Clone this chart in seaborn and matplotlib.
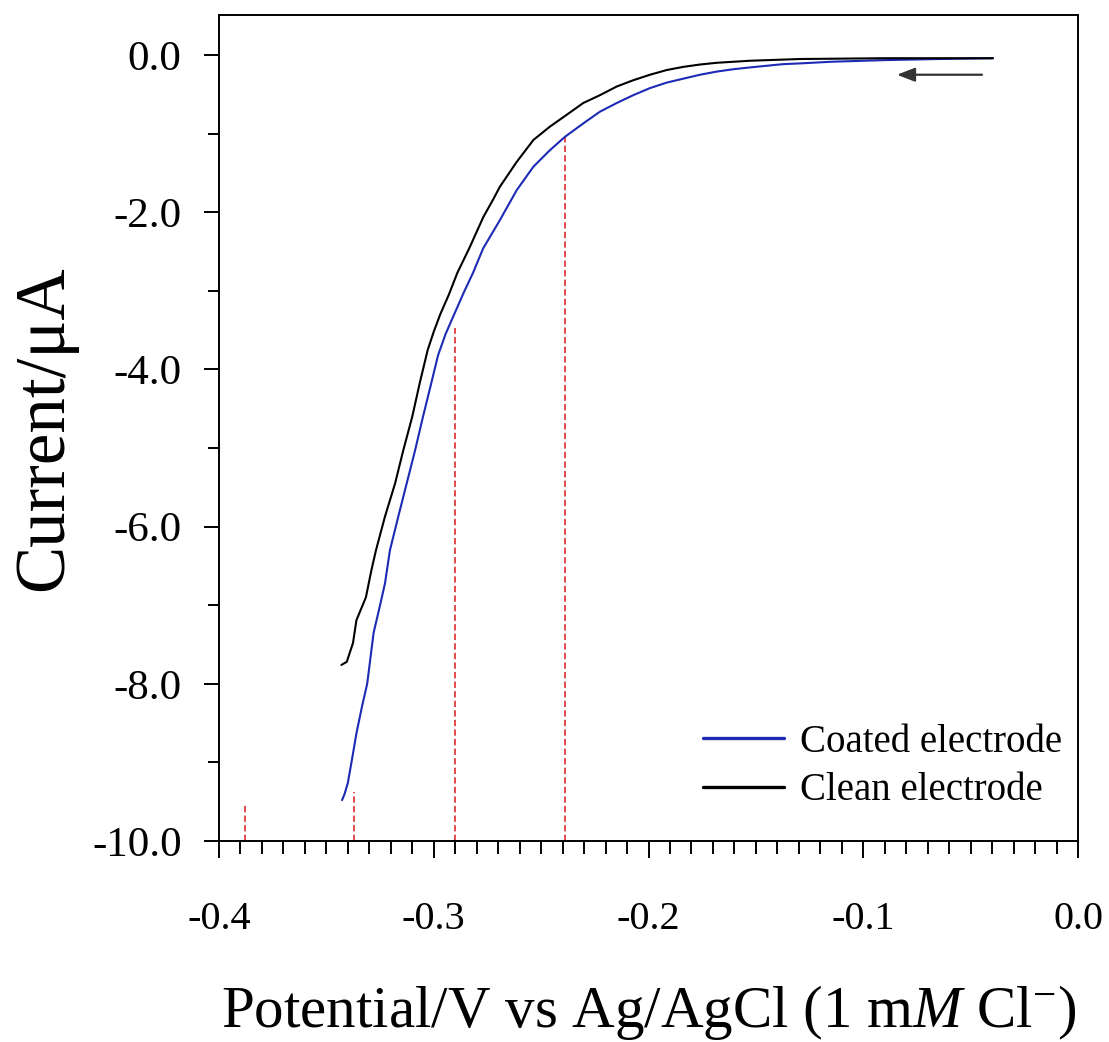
import matplotlib
matplotlib.use("Agg")
import matplotlib.pyplot as plt
import matplotlib.ticker as mticker
import numpy as np
import pandas as pd
import seaborn as sns

# ---- data ----
coated_x = [-0.3427, -0.3415, -0.3400, -0.3380, -0.3360, -0.3335, -0.3310, -0.3280,
            -0.3250, -0.3227, -0.3204, -0.3165, -0.3126, -0.3087, -0.3050, -0.3012,
            -0.2980, -0.2945, -0.2905, -0.2860, -0.2817, -0.2770, -0.2692, -0.2614,
            -0.2536, -0.2459, -0.2389, -0.2304, -0.2226, -0.2148, -0.2071, -0.1993,
            -0.1915, -0.1838, -0.1760, -0.1682, -0.1605, -0.1527, -0.1450, -0.1372,
            -0.1295, -0.1150, -0.0900, -0.0650, -0.0396]
coated_y = [-9.48, -9.40, -9.26, -8.95, -8.63, -8.30, -8.00, -7.35,
            -7.00, -6.72, -6.30, -5.87, -5.45, -5.03, -4.60, -4.18,
            -3.82, -3.55, -3.30, -3.02, -2.77, -2.46, -2.10, -1.72,
            -1.42, -1.21, -1.04, -0.87, -0.72, -0.61, -0.51, -0.42,
            -0.35, -0.30, -0.25, -0.21, -0.18, -0.157, -0.136, -0.115,
            -0.106, -0.085, -0.064, -0.050, -0.040]

clean_x = [-0.3430, -0.3405, -0.3376, -0.3360, -0.3316, -0.3290, -0.3269, -0.3227,
           -0.3180, -0.3142, -0.3100, -0.3065, -0.3028, -0.3000, -0.2970, -0.2930,
           -0.2890, -0.2835, -0.2769, -0.2724, -0.2692, -0.2614, -0.2536, -0.2459,
           -0.2381, -0.2304, -0.2226, -0.2148, -0.2071, -0.1993, -0.1915, -0.1838,
           -0.1760, -0.1682, -0.1527, -0.1295, -0.0900, -0.0396]
clean_y = [-7.76, -7.72, -7.48, -7.19, -6.90, -6.55, -6.30, -5.87,
           -5.45, -5.03, -4.60, -4.17, -3.75, -3.52, -3.30, -3.05,
           -2.77, -2.46, -2.06, -1.84, -1.675, -1.36, -1.08, -0.91,
           -0.76, -0.61, -0.51, -0.40, -0.32, -0.25, -0.19, -0.15,
           -0.12, -0.098, -0.072, -0.050, -0.040, -0.040]

series_names = ["Coated electrode", "Clean electrode"]
series_colors = ["#1c2ab4", "#000000"]

marker_x = [-0.388, -0.337, -0.290, -0.239]
marker_top = [-9.52, -9.38, -3.47, -1.04]

arrow_start = (-0.0447, -0.25)
arrow_end = (-0.0843, -0.25)

x_ticks = [-0.4, -0.3, -0.2, -0.1, 0.0]
y_ticks = [0.0, -2.0, -4.0, -6.0, -8.0, -10.0]

# ---- build table ----
df = pd.concat([
    pd.DataFrame({"Potential": coated_x, "Current": coated_y, "Electrode": series_names[0]}),
    pd.DataFrame({"Potential": clean_x, "Current": clean_y, "Electrode": series_names[1]}),
], ignore_index=True)

sns.set_theme(style="white")
plt.rcParams["font.family"] = ["Liberation Serif", "DejaVu Serif"]
plt.rcParams["mathtext.fontset"] = "custom"
plt.rcParams["mathtext.rm"] = "Liberation Serif"
plt.rcParams["mathtext.it"] = "Liberation Serif:italic"
for key in ["text.color", "axes.labelcolor", "xtick.color", "ytick.color"]:
    plt.rcParams[key] = "black"

fig = plt.figure(figsize=(11.09, 10.42), dpi=100)
ax = fig.add_axes([219 / 1109, 1 - 841 / 1042, (1078 - 219) / 1109, (841 - 15) / 1042])

sns.lineplot(data=df, x="Potential", y="Current", hue="Electrode",
             hue_order=series_names, palette=series_colors, sort=False,
             estimator=None, linewidth=1.5, ax=ax)

ax.vlines(marker_x, ymin=-10.0, ymax=marker_top, colors="#e23a3e",
          linestyles=(0, (3.5, 1.8)), linewidth=1.3, zorder=1)

ax.annotate("", xy=arrow_end, xytext=arrow_start,
            arrowprops=dict(arrowstyle="-|>,head_length=0.9,head_width=0.35",
                            color="#333333", lw=1.6, shrinkA=0, shrinkB=0))

ax.set_xlim(-0.4, 0.0)
ax.set_ylim(-10.0, 0.51)

ax.xaxis.set_major_locator(mticker.FixedLocator(x_ticks))
ax.xaxis.set_minor_locator(mticker.MultipleLocator(0.01))
ax.yaxis.set_major_locator(mticker.FixedLocator(y_ticks))
ax.yaxis.set_minor_locator(mticker.MultipleLocator(1.0))
ax.xaxis.set_major_formatter(mticker.FormatStrFormatter("%.1f"))
ax.yaxis.set_major_formatter(mticker.FormatStrFormatter("%.1f"))

ax.tick_params(axis="x", which="major", direction="out", length=12, width=1.4,
               labelsize=29, pad=31, bottom=True, top=False, colors="black")
ax.tick_params(axis="x", which="minor", direction="out", length=9.5, width=1.4,
               bottom=True, top=False, colors="black")
ax.tick_params(axis="y", which="major", direction="out", length=11, width=1.4,
               labelsize=31, pad=16, left=True, right=False, colors="black")
ax.tick_params(axis="y", which="minor", direction="out", length=8, width=1.4,
               left=True, right=False, colors="black")

for sp in ax.spines.values():
    sp.set_visible(True)
    sp.set_color("black")
    sp.set_linewidth(1.4)

ax.set_xlabel(r"Potential/V vs Ag/AgCl (1 m$\it{M}$ Cl$^{-}$)", fontsize=42.5)
ax.xaxis.set_label_coords(0.5, -0.172)
ax.set_ylabel("Current/μA", fontsize=51)
ax.yaxis.set_label_coords(-0.165, 0.5)

leg = ax.legend(loc="lower right", bbox_to_anchor=(1.022, -0.004), frameon=False,
                fontsize=28, handlelength=2.1, handletextpad=0.4, labelspacing=0.3,
                title=None)
for line in leg.get_lines():
    line.set_linewidth(2.4)

fig.savefig("out.png", dpi=100)
